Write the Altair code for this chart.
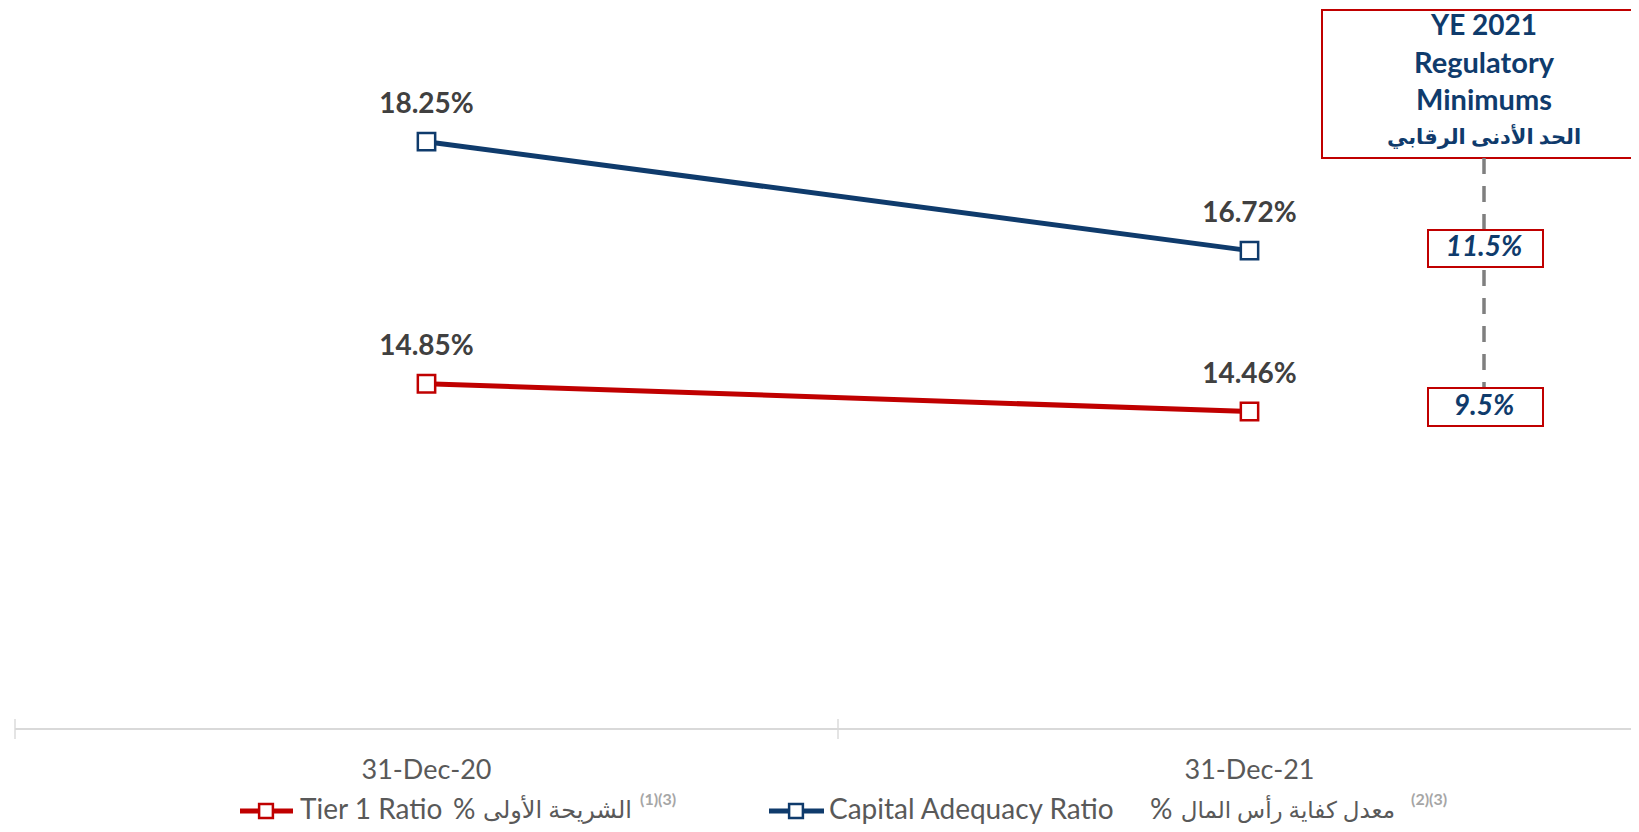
import altair as alt
import pandas as pd

# ---- data ----
categories = ["31-Dec-20", "31-Dec-21"]
cat_positions = [0.5, 1.5]
car_values = [18.25, 16.72]
tier1_values = [14.85, 14.46]
car_labels = ["18.25%", "16.72%"]
tier1_labels = ["14.85%", "14.46%"]
axis_ticks = [0, 1, 2]
axis_base = 10
reg_title = ["YE 2021", "Regulatory", "Minimums", "الحد الأدنى الرقابي"]
reg_values = ["11.5%", "9.5%"]
legend_en = ["Tier 1 Ratio", "Capital Adequacy Ratio"]
legend_pct = ["%", "%"]
legend_ar = ["الشريحة الأولى", "معدل كفاية رأس المال"]
legend_notes = ["(1)(3)", "(2)(3)"]

NAVY = "#0f3b6c"
RED = "#c00000"
GREY = "#595959"
DARK = "#404040"
FONT = "Lato, 'DejaVu Sans', sans-serif"

xs = alt.Scale(domain=[0, 1.96355], nice=False, zero=False)
ys = alt.Scale(domain=[10, 20.1], nice=False, zero=False)

car_df = pd.DataFrame({"pos": cat_positions, "value": car_values, "label": car_labels})
t1_df = pd.DataFrame({"pos": cat_positions, "value": tier1_values, "label": tier1_labels})
cat_df = pd.DataFrame({"pos": cat_positions, "cat": categories})
tick_df = pd.DataFrame({"pos": axis_ticks, "value": [axis_base] * len(axis_ticks)})
axis_df = pd.DataFrame({"pos": [axis_ticks[0]], "pos2": [axis_ticks[-1]], "value": [axis_base]})

X = alt.X("pos:Q", scale=xs, axis=None)
Y = alt.Y("value:Q", scale=ys, axis=None)


def series_layers(df, color):
    line = alt.Chart(df).mark_line(color=color, strokeWidth=5).encode(x=X, y=Y)
    pts = alt.Chart(df).mark_point(shape="square", size=300, filled=True, fill="white",
                                   stroke=color, strokeWidth=2.5, opacity=1).encode(x=X, y=Y)
    labs = alt.Chart(df).mark_text(dy=-37, fontSize=28, fontWeight="bold", color=DARK,
                                   font=FONT).encode(x=X, y=Y, text="label:N")
    return [line, pts, labs]


def txt(s, x, y, size, color, align="center", weight="normal", style="normal"):
    return alt.Chart(pd.DataFrame({"t": [s]})).mark_text(
        fontSize=size, color=color, align=align, baseline="middle", font=FONT,
        fontWeight=weight, fontStyle=style
    ).encode(x=alt.value(x), y=alt.value(y), text="t:N")


def box(x0, x1, y0, y1):
    return alt.Chart(pd.DataFrame({"a": [0]})).mark_rect(fill="white", stroke=RED, strokeWidth=2).encode(
        x=alt.value(x0), x2=alt.value(x1), y=alt.value(y0), y2=alt.value(y1))


# axis line and ticks
axis_line = alt.Chart(axis_df).mark_rule(color="#d9d9d9", strokeWidth=2).encode(
    x=X, x2="pos2:Q", y=Y)
ticks = alt.Chart(tick_df).mark_tick(orient="vertical", size=20, thickness=2, color="#d9d9d9").encode(
    x=X, y=Y)
cat_labels = alt.Chart(cat_df).mark_text(fontSize=27, color=GREY, font=FONT, baseline="middle").encode(
    x=X, y=alt.value(761), text="cat:N")

# regulatory annotation
top_box = box(1307, 1660, 0, 148)
dash = alt.Chart(pd.DataFrame({"a": [0]})).mark_rule(color="#7f7f7f", strokeWidth=3.5, strokeDash=[16, 12]).encode(
    x=alt.value(1469), y=alt.value(148), y2=alt.value(378))
box1 = box(1413, 1528, 220, 257)
box2 = box(1413, 1528, 378, 416)

title_layers = [
    txt(reg_title[0], 1469, 17, 28, NAVY, weight="bold"),
    txt(reg_title[1], 1469, 54, 29, NAVY, weight="bold"),
    txt(reg_title[2], 1469, 91, 29, NAVY, weight="bold"),
    txt(reg_title[3], 1469, 128, 21, NAVY, weight="bold"),
    txt(reg_values[0], 1469, 238, 28, NAVY, weight="bold", style="italic"),
    txt(reg_values[1], 1469, 397, 28, NAVY, weight="bold", style="italic"),
]


# legend
def legend_symbol(x0, x1, xc, color):
    one = pd.DataFrame({"a": [0]})
    r = alt.Chart(one).mark_rule(color=color, strokeWidth=5).encode(
        x=alt.value(x0), x2=alt.value(x1), y=alt.value(801))
    p = alt.Chart(one).mark_point(shape="square", size=190, filled=True, fill="white",
                                  stroke=color, strokeWidth=2.5, opacity=1).encode(
        x=alt.value(xc), y=alt.value(801))
    return [r, p]


legend_layers = (
    legend_symbol(225, 278, 251, RED)
    + [txt(legend_en[0], 285, 801, 28, GREY, align="left"),
       txt(legend_pct[0], 438, 801, 28, GREY, align="left"),
       txt(legend_ar[0], 617, 801, 24, GREY, align="right"),
       txt(legend_notes[0], 625, 790, 16, "#a6a6a6", align="left", weight="bold")]
    + legend_symbol(754, 809, 781, NAVY)
    + [txt(legend_en[1], 814, 801, 28, GREY, align="left"),
       txt(legend_pct[1], 1135, 801, 28, GREY, align="left"),
       txt(legend_ar[1], 1380, 801, 23, GREY, align="right"),
       txt(legend_notes[1], 1396, 790, 16, "#a6a6a6", align="left", weight="bold")]
)

layers = ([axis_line, ticks, cat_labels]
          + series_layers(car_df, NAVY)
          + series_layers(t1_df, RED)
          + [top_box, dash, box1, box2]
          + title_layers
          + legend_layers)

chart = alt.layer(*layers).properties(
    width=1616, height=719,
    padding={"left": 7, "top": 2, "right": 0, "bottom": 95},
    autosize=alt.AutoSizeParams(type="none"),
).configure_view(strokeWidth=0)

chart.save("out.html", embed_options={"renderer": "svg", "actions": False})
